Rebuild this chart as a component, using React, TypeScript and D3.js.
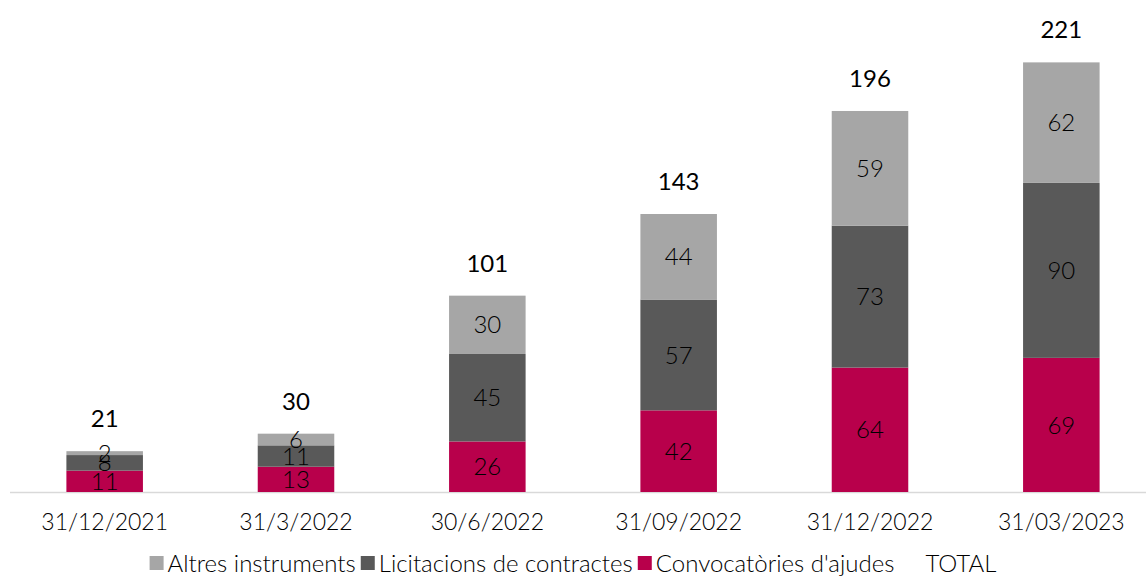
import { useEffect, useRef } from 'react';
import * as d3 from 'd3';

// --- data ---
const dates = ['31/12/2021', '31/3/2022', '30/6/2022', '31/09/2022', '31/12/2022', '31/03/2023'];
const convocatories = [11, 13, 26, 42, 64, 69];
const licitacions = [8, 11, 45, 57, 73, 90];
const altres = [2, 6, 30, 44, 59, 62];
const totals = [21, 30, 101, 143, 196, 221];

const seriesNames = ['Convocatòries d\'ajudes', 'Licitacions de contractes', 'Altres instruments'];
const seriesColors = ['#b8004b', '#595959', '#a6a6a6'];
const legendOrder = [2, 1, 0];

const W = 1146;
const H = 576;
const FONT = 'Lato, "DejaVu Sans", sans-serif';

function StackedChart() {
  const svgRef = useRef<SVGSVGElement>(null);

  useEffect(() => {
    const svg = d3.select(svgRef.current);
    svg.selectAll('*').remove();

    const x = d3.scaleBand().domain(dates).range([9, 1157]).paddingInner(0.6).paddingOuter(0.3);
    const y = d3.scaleLinear().domain([0, 250]).range([492, 6]);

    const rows = dates.map((d, i) => ({ date: d, c: convocatories[i], l: licitacions[i], a: altres[i] }));
    const stack = d3.stack<any>().keys(['c', 'l', 'a'])(rows);

    const g = svg.append('g');

    // axis line
    g.append('line')
      .attr('x1', 10).attr('x2', W)
      .attr('y1', y(0) + 0.5).attr('y2', y(0) + 0.5)
      .attr('stroke', '#d9d9d9').attr('stroke-width', 1.5);

    stack.forEach((layer, si) => {
      const lg = g.append('g');
      lg.selectAll('rect')
        .data(layer)
        .join('rect')
        .attr('x', (d: any) => x(d.data.date)!)
        .attr('width', x.bandwidth())
        .attr('y', (d) => y(d[1]))
        .attr('height', (d) => y(d[0]) - y(d[1]))
        .attr('fill', seriesColors[si]);

      lg.selectAll('text')
        .data(layer)
        .join('text')
        .attr('x', (d: any) => x(d.data.date)! + x.bandwidth() / 2)
        .attr('y', (d) => (y(d[0]) + y(d[1])) / 2)
        .attr('dy', '0.36em')
        .attr('text-anchor', 'middle')
        .style('font-family', FONT)
        .style('font-weight', 300)
        .style('font-size', '24px')
        .style('fill', '#000')
        .text((d) => d[1] - d[0]);
    });

    // totals
    g.selectAll('.tot')
      .data(totals)
      .join('text')
      .attr('class', 'tot')
      .attr('x', (_, i) => x(dates[i])! + x.bandwidth() / 2)
      .attr('y', (d) => y(d) - 24)
      .attr('text-anchor', 'middle')
      .style('font-family', FONT)
      .style('font-size', '24px')
      .style('fill', '#000')
      .text((d) => d);

    // x labels
    g.selectAll('.xl')
      .data(dates)
      .join('text')
      .attr('class', 'xl')
      .attr('x', (d) => x(d)! + x.bandwidth() / 2)
      .attr('y', 530)
      .attr('text-anchor', 'middle')
      .style('font-family', FONT)
      .style('font-weight', 300)
      .style('font-size', '23px')
      .style('fill', '#000')
      .text((d) => d);

    // legend, centred
    const legend = svg.append('g');
    const items = [
      ...legendOrder.map((i) => ({ name: seriesNames[i], color: seriesColors[i] as string | null })),
      { name: 'TOTAL', color: null },
    ];
    let cx = 0;
    items.forEach((it, k) => {
      const ig = legend.append('g').attr('transform', `translate(${cx},0)`);
      let off = 0;
      if (it.color) {
        ig.append('rect').attr('x', 0).attr('y', -16).attr('width', 14).attr('height', 14).attr('fill', it.color);
        off = 18;
      } else {
        off = 26;
      }
      const t = ig.append('text')
        .attr('x', off).attr('y', 0)
        .style('font-family', FONT)
        .style('font-weight', 300)
        .style('font-size', '24px')
        .style('fill', '#000')
        .text(it.name);
      const len = (t.node() as SVGTextElement).getComputedTextLength();
      cx += off + len + (k < items.length - 1 ? 5 : 0);
    });
    legend.attr('transform', `translate(${(W - cx) / 2},572)`);
  }, []);

  return <svg ref={svgRef} width={W} height={H} style={{ display: 'block' }} />;
}

export default function App() {
  return (
    <div style={{ position: 'absolute', left: 0, top: 0, width: W, height: H, background: '#fff' }}>
      <StackedChart />
    </div>
  );
}
